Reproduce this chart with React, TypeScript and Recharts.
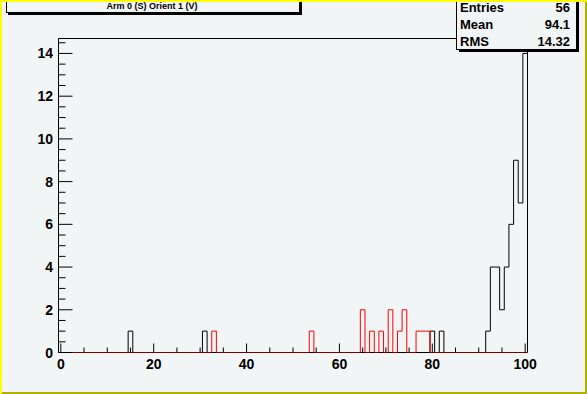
import React from "react";
import {
  ComposedChart,
  Line,
  XAxis,
  YAxis,
  ReferenceArea,
} from "recharts";

document.body.style.margin = "0";

// non-empty bins (bin centres) of the two histograms
const blackBins = [15, 31, 80, 82, 92, 93, 94, 95, 96, 97, 98, 99, 100];
const blackCounts = [1, 1, 1, 1, 1, 4, 4, 2, 4, 6, 9, 7, 14];
const redBins = [33, 54, 65, 67, 69, 71, 73, 74, 77, 78, 79];
const redCounts = [1, 1, 2, 1, 1, 2, 1, 2, 1, 1, 1];

const xTicks = [0, 5, 10, 15, 20, 25, 30, 35, 40, 45, 50, 55, 60, 65, 70, 75, 80, 85, 90, 95, 100];
const xLabels = [0, 20, 40, 60, 80, 100];
const yTicks = [
  0, 0.5, 1, 1.5, 2, 2.5, 3, 3.5, 4, 4.5, 5, 5.5, 6, 6.5, 7, 7.5, 8, 8.5, 9, 9.5, 10,
  10.5, 11, 11.5, 12, 12.5, 13, 13.5, 14, 14.5,
];
const yLabels = [0, 2, 4, 6, 8, 10, 12, 14];

const statNames = ["Entries", "Mean", "RMS"];
const statValues = ["56", "94.1", "14.32"];

const BG = "#f2f5f5";
const FONT = "'Liberation Sans', Arial, sans-serif";

// step table: one row per bin low edge, plus the final high edge
const table: { x: number; black: number; red: number }[] = [];
for (let b = 0; b <= 100; b++) {
  const bi = blackBins.indexOf(b);
  const ri = redBins.indexOf(b);
  table.push({
    x: b - 0.5,
    black: bi >= 0 ? blackCounts[bi] : 0,
    red: ri >= 0 ? redCounts[ri] : 0,
  });
}
table.push({ ...table[table.length - 1], x: 100.5 });

function XTick(props: any) {
  const { x, y, payload } = props;
  const major = xLabels.includes(payload.value);
  return (
    <g>
      <line x1={x} x2={x} y1={y} y2={y - (major ? 9 : 5)} stroke="#000" />
      {major && (
        <text
          x={x}
          y={y + 16.5}
          textAnchor="middle"
          fontFamily={FONT}
          fontWeight="bold"
          fontSize={14}
          fill="#000"
        >
          {payload.value}
        </text>
      )}
    </g>
  );
}

function YTick(props: any) {
  const { x, y, payload } = props;
  const major = yLabels.includes(payload.value);
  return (
    <g>
      <line x1={x} x2={x + (major ? 14 : 7)} y1={y} y2={y} stroke="#000" />
      {major && (
        <text
          x={x - 5.5}
          y={y + 5}
          textAnchor="end"
          fontFamily={FONT}
          fontWeight="bold"
          fontSize={14}
          fill="#000"
        >
          {payload.value}
        </text>
      )}
    </g>
  );
}

export default function App() {
  return (
    <div style={{ position: "relative", width: 587, height: 394, background: BG }}>
      <ComposedChart
        width={587}
        height={394}
        data={table}
        margin={{ top: 38.5, right: 59.5, bottom: 0, left: 0 }}
      >
        <XAxis
          dataKey="x"
          type="number"
          domain={[-0.5, 100.5]}
          ticks={xTicks}
          height={41.5}
          tickSize={0}
          tickMargin={0}
          axisLine={false}
          tickLine={false}
          tick={<XTick />}
          interval={0}
          allowDataOverflow
        />
        <YAxis
          type="number"
          domain={[0, 14.7]}
          ticks={yTicks}
          width={58.5}
          tickSize={0}
          tickMargin={0}
          axisLine={false}
          tickLine={false}
          tick={<YTick />}
          interval={0}
          allowDataOverflow
        />
        <ReferenceArea
          x1={-0.5}
          x2={100.5}
          y1={0}
          y2={14.7}
          fill="none"
          stroke="#000"
          strokeWidth={1}
        />
        <Line
          dataKey="black"
          type="stepAfter"
          stroke="#000"
          strokeWidth={1}
          dot={false}
          isAnimationActive={false}
        />
        <Line
          dataKey="red"
          type="stepAfter"
          stroke="#ff0000"
          strokeWidth={1}
          dot={false}
          isAnimationActive={false}
        />
      </ComposedChart>
      <svg
        width={587}
        height={394}
        style={{ position: "absolute", left: 0, top: 0, pointerEvents: "none" }}
      >
        {/* title box */}
        <rect x={8} y={-2} width={294} height={17} fill="#000" />
        <rect x={6.5} y={-3.5} width={293} height={16} fill={BG} stroke="#000" />
        <text
          x={152}
          y={9}
          textAnchor="middle"
          fontFamily={FONT}
          fontWeight="bold"
          fontSize={9}
          fill="#000"
        >
          Arm 0 (S) Orient 1 (V)
        </text>
        {/* stats box */}
        <rect x={459} y={-2} width={120} height={54} fill="#000" />
        <rect x={456.5} y={-3.5} width={120} height={53} fill={BG} stroke="#000" />
        {statNames.map((n, i) => (
          <g key={n}>
            <text x={460} y={11.5 + i * 17} fontFamily={FONT} fontWeight="bold" fontSize={13} fill="#000">
              {n}
            </text>
            <text
              x={570}
              y={11.5 + i * 17}
              textAnchor="end"
              fontFamily={FONT}
              fontWeight="bold"
              fontSize={13}
              fill="#000"
            >
              {statValues[i]}
            </text>
          </g>
        ))}
        {/* canvas bevel */}
        <rect x={0} y={0} width={587} height={2} fill="#ffff00" />
        <rect x={0} y={0} width={2} height={394} fill="#ffff00" />
        <rect x={585} y={2} width={2} height={392} fill="#b0b000" />
        <rect x={2} y={392} width={585} height={2} fill="#b0b000" />
      </svg>
    </div>
  );
}
